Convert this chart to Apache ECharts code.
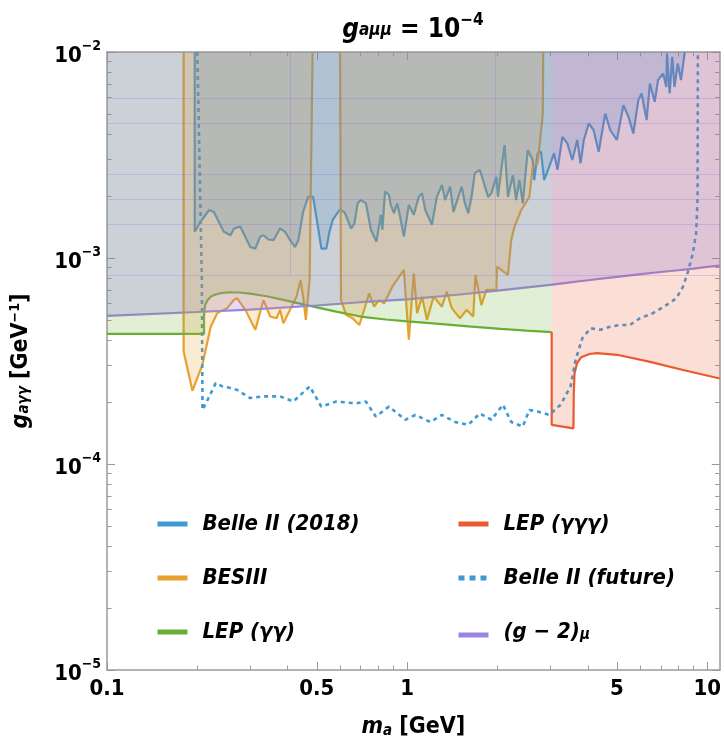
<!DOCTYPE html>
<html><head><meta charset="utf-8">
<script src="https://cdn.jsdelivr.net/npm/echarts@6/dist/echarts.min.js"></script>
<style>html,body{margin:0;padding:0;background:#fff}#c{width:724px;height:744px}</style>
</head><body><div id="c"></div>
<script>
// ---------- axis ranges & ticks ----------
const xMin = 0.1, xMax = 11, yMin = 1e-5, yMax = 1e-2;
const xMajorTicks = [0.1, 0.5, 1, 5, 10];
const xMinorTicks = [0.2, 0.3, 0.4, 0.6, 0.7, 0.8, 0.9, 2, 3, 4, 6, 7, 8, 9];
const yMajorTicks = [1e-5, 1e-4, 1e-3, 1e-2];
const yMinorTicks = [2e-5,3e-5,4e-5,5e-5,6e-5,7e-5,8e-5,9e-5,2e-4,3e-4,4e-4,5e-4,6e-4,7e-4,8e-4,9e-4,2e-3,3e-3,4e-3,5e-3,6e-3,7e-3,8e-3,9e-3];

// faint rendering seams visible in the reference's shaded area
const seamG = [5.97e-3, 4.51e-3, 2.55e-3, 1.93e-3, 1.46e-3, 8.27e-4];
const seamM = [0.408, 1.96];

// ---------- series names ----------
const names = ['Belle II (2018)', 'BESIII', 'LEP (γγ)', 'LEP (γγγ)', 'Belle II (future)', '(g − 2)μ'];

// ---------- data [m_a (GeV), g_aγγ (GeV^-1)] ----------
const belle2018 = [[0.196,1e-2],[0.196,1.34e-3],[0.205,1.50e-3],[0.219,1.71e-3],[0.227,1.67e-3],[0.245,1.34e-3],[0.258,1.29e-3],[0.265,1.39e-3],[0.278,1.42e-3],[0.300,1.13e-3],[0.312,1.11e-3],[0.324,1.27e-3],[0.332,1.29e-3],[0.345,1.23e-3],[0.359,1.22e-3],[0.377,1.39e-3],[0.392,1.34e-3],[0.407,1.22e-3],[0.423,1.13e-3],[0.434,1.22e-3],[0.450,1.67e-3],[0.468,1.98e-3],[0.486,1.98e-3],[0.498,1.59e-3],[0.518,1.11e-3],[0.538,1.11e-3],[0.551,1.34e-3],[0.565,1.53e-3],[0.595,1.71e-3],[0.618,1.67e-3],[0.634,1.53e-3],[0.650,1.39e-3],[0.667,1.47e-3],[0.684,1.84e-3],[0.701,1.91e-3],[0.729,1.84e-3],[0.757,1.37e-3],[0.790,1.20e-3],[0.817,1.62e-3],[0.827,1.37e-3],[0.844,2.10e-3],[0.870,2.02e-3],[0.881,1.81e-3],[0.904,1.65e-3],[0.927,1.84e-3],[0.950,1.55e-3],[0.975,1.27e-3],[1.013,1.81e-3],[1.052,1.62e-3],[1.093,1.98e-3],[1.121,2.06e-3],[1.149,1.71e-3],[1.209,1.45e-3],[1.256,1.98e-3],[1.305,2.26e-3],[1.338,1.91e-3],[1.390,2.22e-3],[1.426,1.67e-3],[1.481,1.98e-3],[1.519,2.22e-3],[1.557,1.84e-3],[1.598,1.65e-3],[1.639,1.98e-3],[1.680,2.58e-3],[1.746,2.68e-3],[1.860,1.98e-3],[1.908,2.06e-3],[1.982,2.48e-3],[2.007,1.98e-3],[2.058,2.68e-3],[2.111,3.53e-3],[2.166,1.98e-3],[2.250,2.52e-3],[2.307,1.91e-3],[2.366,2.39e-3],[2.427,1.84e-3],[2.522,3.34e-3],[2.618,2.99e-3],[2.651,2.39e-3],[2.721,3.22e-3],[2.790,3.28e-3],[2.860,2.39e-3],[2.971,2.77e-3],[3.086,3.22e-3],[3.168,2.68e-3],[3.290,3.87e-3],[3.417,3.60e-3],[3.550,2.99e-3],[3.686,3.74e-3],[3.781,2.88e-3],[3.878,3.74e-3],[4.027,4.50e-3],[4.180,4.17e-3],[4.345,3.28e-3],[4.571,5.02e-3],[4.750,4.17e-3],[4.996,3.74e-3],[5.254,5.52e-3],[5.460,4.85e-3],[5.669,4.02e-3],[5.890,5.84e-3],[6.040,6.29e-3],[6.277,4.67e-3],[6.435,7.03e-3],[6.680,5.73e-3],[6.850,7.30e-3],[7.120,7.86e-3],[7.300,6.76e-3],[7.340,9.86e-3],[7.490,6.29e-3],[7.640,9.47e-3],[7.770,6.76e-3],[7.970,8.79e-3],[8.170,7.30e-3],[8.400,9.86e-3],[8.420,1e-2]];

const besiiiLow = [[0.180,1e-2],[0.180,3.52e-4],[0.1926,2.27e-4],[0.2079,3.03e-4],[0.2216,4.64e-4],[0.2330,5.40e-4],[0.2514,5.71e-4],[0.2645,6.25e-4],[0.2711,6.38e-4],[0.2891,5.60e-4],[0.3119,4.48e-4],[0.3322,6.25e-4],[0.3496,5.20e-4],[0.3674,5.10e-4],[0.3772,5.60e-4],[0.3869,4.82e-4],[0.4121,5.81e-4],[0.4280,6.49e-4],[0.4414,7.82e-4],[0.4502,6.49e-4],[0.4596,5.01e-4],[0.473,7.82e-4],[0.484,1e-2]];
const besiiiHigh = [[0.598,1e-2],[0.602,6.25e-4],[0.626,5.30e-4],[0.658,5.10e-4],[0.693,4.73e-4],[0.719,5.60e-4],[0.747,6.74e-4],[0.776,5.81e-4],[0.806,6.25e-4],[0.838,6.02e-4],[0.859,6.49e-4],[0.892,7.26e-4],[0.975,8.75e-4],[1.013,4.01e-4],[1.052,8.43e-4],[1.079,5.40e-4],[1.121,6.49e-4],[1.164,5.01e-4],[1.225,6.49e-4],[1.305,5.81e-4],[1.355,6.87e-4],[1.408,5.71e-4],[1.499,5.10e-4],[1.578,5.60e-4],[1.660,5.20e-4],[1.689,8.27e-4],[1.767,5.91e-4],[1.836,7.00e-4],[1.982,7.00e-4],[1.992,9.07e-4],[2.166,8.27e-4],[2.221,1.22e-3],[2.277,1.42e-3],[2.398,1.71e-3],[2.553,1.98e-3],[2.618,2.77e-3],[2.721,2.88e-3],[2.830,5.0e-3],[2.840,1e-2]];

const lepGG = [[0.1,4.28e-4],[0.2105,4.28e-4],[0.2105,5.2e-4],[0.212,5.9e-4],[0.2164,6.25e-4],[0.222,6.5e-4],[0.230,6.65e-4],[0.240,6.76e-4],[0.255,6.82e-4],[0.275,6.80e-4],[0.300,6.72e-4],[0.340,6.52e-4],[0.390,6.24e-4],[0.470,5.87e-4],[0.580,5.49e-4],[0.710,5.18e-4],[0.850,5.03e-4],[1.0,4.92e-4],[1.25,4.80e-4],[1.6,4.66e-4],[2.05,4.53e-4],[2.5,4.44e-4],[3.03,4.37e-4]];

const lepGGG = [[3.03,4.37e-4],[3.03,1.55e-4],[3.58,1.49e-4],[3.59,2.2e-4],[3.61,2.75e-4],[3.68,3.08e-4],[3.80,3.30e-4],[4.05,3.42e-4],[4.29,3.45e-4],[5.0,3.39e-4],[6.4,3.14e-4],[8.3,2.86e-4],[11,2.6e-4]];

const belleFuture = [[0.200,1e-2],[0.207,7.8e-4],[0.208,1.83e-4],[0.2164,2.05e-4],[0.2302,2.47e-4],[0.2422,2.38e-4],[0.2579,2.34e-4],[0.2711,2.29e-4],[0.300,2.09e-4],[0.3322,2.13e-4],[0.3772,2.13e-4],[0.4174,2.01e-4],[0.4736,2.38e-4],[0.5175,1.90e-4],[0.580,2.01e-4],[0.675,1.97e-4],[0.7285,2.01e-4],[0.786,1.70e-4],[0.870,1.90e-4],[0.987,1.64e-4],[1.065,1.73e-4],[1.194,1.60e-4],[1.305,1.73e-4],[1.444,1.60e-4],[1.598,1.55e-4],[1.746,1.76e-4],[1.908,1.64e-4],[2.085,1.94e-4],[2.221,1.60e-4],[2.427,1.52e-4],[2.553,1.83e-4],[2.721,1.80e-4],[2.971,1.73e-4],[3.247,1.94e-4],[3.503,2.38e-4],[3.64,3.20e-4],[3.833,4.08e-4],[4.081,4.56e-4],[4.4,4.48e-4],[4.75,4.64e-4],[5.12,4.73e-4],[5.52,4.73e-4],[5.96,5.10e-4],[6.59,5.40e-4],[7.30,5.91e-4],[7.88,6.37e-4],[8.30,7.26e-4],[8.62,8.58e-4],[8.94,1.05e-3],[9.18,1.32e-3],[9.28,1.98e-3],[9.30,1e-2]];

const gMinus2 = [[0.1,5.24e-4],[0.2,5.47e-4],[0.3,5.62e-4],[0.5,5.88e-4],[0.7,6.10e-4],[1,6.30e-4],[1.5,6.65e-4],[2,6.95e-4],[3,7.40e-4],[4,7.80e-4],[5,8.10e-4],[6,8.35e-4],[7,8.55e-4],[8,8.72e-4],[9,8.88e-4],[10,9.05e-4],[11,9.18e-4]];

// ---------- styles ----------
const F = "'Liberation Sans Narrow','DejaVu Sans Condensed','Liberation Sans',Arial,sans-serif";
const colors = {belle:'#3d9ad6', bes:'#e9a030', lepgg:'#6aaf35', lepggg:'#ea5a30', fut:'#3d9ad6', gm2:'#9a86e0'};
const frameColor = '#9a9a9a';

function lineSeries(name, data, color, opts) {
  return Object.assign({
    type:'line', name, data, symbol:'none', showSymbol:false, z:2,
    connectNulls:false, animation:false, silent:true,
    lineStyle:{color, width:2.2}, itemStyle:{color}
  }, opts || {});
}
function fillSeries(name, data, rgba) {
  return {
    type:'line', name:'fill ' + name, data, symbol:'none', showSymbol:false, z:3,
    connectNulls:false, animation:false, silent:true,
    lineStyle:{width:0, opacity:0}, areaStyle:{origin:'end', color:rgba, opacity:1}
  };
}
const besiii = besiiiLow.concat([[0.54, null]], besiiiHigh);

const seamStyle = {color:'rgba(130,110,225,0.26)', width:1, type:'solid'};
const seamSeries = {
  type:'line', name:'seams', data:[], silent:true, z:4, animation:false,
  markLine:{
    symbol:['none','none'], silent:true, animation:false, label:{show:false},
    lineStyle:seamStyle, emphasis:{disabled:true},
    data: seamG.map(g => [{coord:[xMin, g]}, {coord:[xMax, g]}])
      .concat(seamM.map(m => [{coord:[m, yMax]}, {coord:[m, seamG[5]]}]))
  }
};

const series = [
  lineSeries(names[0], belle2018, colors.belle),
  lineSeries(names[1], besiii, colors.bes),
  lineSeries(names[2], lepGG, colors.lepgg),
  lineSeries(names[3], lepGGG, colors.lepggg),
  lineSeries(names[4], belleFuture, colors.fut, {lineStyle:{color:colors.fut, width:2.6, type:[4,4]}}),
  lineSeries(names[5], gMinus2, colors.gm2),
  fillSeries(names[2], lepGG, 'rgba(106,175,53,0.20)'),
  fillSeries(names[3], lepGGG, 'rgba(234,90,48,0.20)'),
  fillSeries(names[5], gMinus2, 'rgba(140,120,215,0.25)'),
  fillSeries(names[1], besiii, 'rgba(232,160,48,0.21)'),
  fillSeries(names[0], belle2018, 'rgba(75,135,195,0.20)'),
  seamSeries
];

const tickLine = {color: frameColor, width: 1};
const supRich = {
  b:{fontFamily:F, fontSize:22, fontWeight:'bold', color:'#000', padding:[9,0,0,0]},
  s:{fontFamily:F, fontSize:14, fontWeight:'bold', color:'#000', padding:[0,0,11,0]}
};
function expLabel(v){ const e = Math.round(Math.log10(v)); return '{b|10}{s|' + (e<0?'−':'') + Math.abs(e) + '}'; }

function xAx(pos, major, labels) {
  return {
    type:'log', logBase:10, min:xMin, max:xMax, position:pos,
    axisLine:{show:major, lineStyle:{color:frameColor, width:1.5}},
    axisTick:{show:true, inside:true, length: major?8:4.5, customValues: major?xMajorTicks:xMinorTicks, lineStyle:tickLine},
    axisLabel:{show:labels, customValues:xMajorTicks, margin:8, fontFamily:F, fontSize:22, fontWeight:'bold', color:'#000',
      formatter: v => String(+(+v).toPrecision(3))},
    splitLine:{show:false}, minorTick:{show:false}, minorSplitLine:{show:false}
  };
}
function yAx(pos, major, labels) {
  return {
    type:'log', logBase:10, min:yMin, max:yMax, position:pos,
    axisLine:{show:major, lineStyle:{color:frameColor, width:1.5}},
    axisTick:{show:true, inside:true, length: major?8:4.5, customValues: major?yMajorTicks:yMinorTicks, lineStyle:tickLine},
    axisLabel:{show:labels, customValues:yMajorTicks, margin:6, formatter: expLabel, rich: supRich},
    splitLine:{show:false}, minorTick:{show:false}, minorSplitLine:{show:false}
  };
}

const xAxes = [xAx('bottom', true, true), xAx('bottom', false, false), xAx('top', true, false), xAx('top', false, false)];
Object.assign(xAxes[0], {
  name:'{i|m}{sub|a}{n| [GeV]}', nameLocation:'middle', nameGap:46,
  nameTextStyle:{rich:{
    i:{fontFamily:F, fontSize:23, fontWeight:'bold', fontStyle:'italic', color:'#000', padding:[0,0,7,0]},
    sub:{fontFamily:F, fontSize:15, fontWeight:'bold', fontStyle:'italic', color:'#000'},
    n:{fontFamily:F, fontSize:23, fontWeight:'bold', color:'#000', padding:[0,0,7,0]}}}
});
const yAxes = [yAx('left', true, true), yAx('left', false, false), yAx('right', true, false), yAx('right', false, false)];
Object.assign(yAxes[0], {
  name:'{i|g}{sub|aγγ}{n| [GeV}{sup|−1}{n|]}', nameLocation:'middle', nameGap:66,
  nameTextStyle:{rich:{
    i:{fontFamily:F, fontSize:23, fontWeight:'bold', fontStyle:'italic', color:'#000', padding:[0,0,7,0]},
    sub:{fontFamily:F, fontSize:15, fontWeight:'bold', fontStyle:'italic', color:'#000'},
    n:{fontFamily:F, fontSize:23, fontWeight:'bold', color:'#000', padding:[0,0,7,0]},
    sup:{fontFamily:F, fontSize:14, fontWeight:'bold', color:'#000', padding:[0,0,19,0]}}}
});

const legendText = {
  fontFamily:F, fontSize:22, fontWeight:'bold', fontStyle:'italic', color:'#000', padding:[0,0,0,10],
  rich:{
    n:{fontFamily:F, fontSize:22, fontWeight:'bold', fontStyle:'italic', color:'#000', padding:[0,0,6,0]},
    sub:{fontFamily:F, fontSize:15, fontWeight:'bold', fontStyle:'italic', color:'#000'}
  }
};
function legendFmt(name){ return name === names[5] ? '{n|(g − 2)}{sub|μ}' : name; }
function legendItems(list) {
  return list.map(n => n === names[4] ? {name:n, lineStyle:{width:5, type:[6,5]}} : {name:n});
}
function legend(list, left) {
  return { data:legendItems(list), left, top:508, orient:'vertical', itemGap:32, itemWidth:30, itemHeight:14,
    lineStyle:{width:5}, itemStyle:{opacity:0, borderWidth:0}, textStyle:legendText, formatter:legendFmt, selectedMode:false };
}

const option = {
  backgroundColor:'#fff',
  animation:false,
  title:{
    text:'{i|g}{sub|aμμ}{n| = 10}{sup|−4}', left:408, top:6, textAlign:'center',
    textStyle:{rich:{
      i:{fontFamily:F, fontSize:26, fontWeight:'bold', fontStyle:'italic', color:'#000', padding:[6,0,8,0]},
      sub:{fontFamily:F, fontSize:17, fontWeight:'bold', fontStyle:'italic', color:'#000'},
      n:{fontFamily:F, fontSize:26, fontWeight:'bold', color:'#000', padding:[6,0,8,0]},
      sup:{fontFamily:F, fontSize:17, fontWeight:'bold', color:'#000', padding:[0,0,20,0]}}}
  },
  grid:{left:102, right:3, top:52, bottom:73, containLabel:false},
  legend:[legend(names.slice(0,3), 150), legend(names.slice(3,6), 451)],
  xAxis:xAxes, yAxis:yAxes,
  series
};
const chart = echarts.init(document.getElementById('c'), null, {renderer:'canvas'});
chart.setOption(option);
</script></body></html>
